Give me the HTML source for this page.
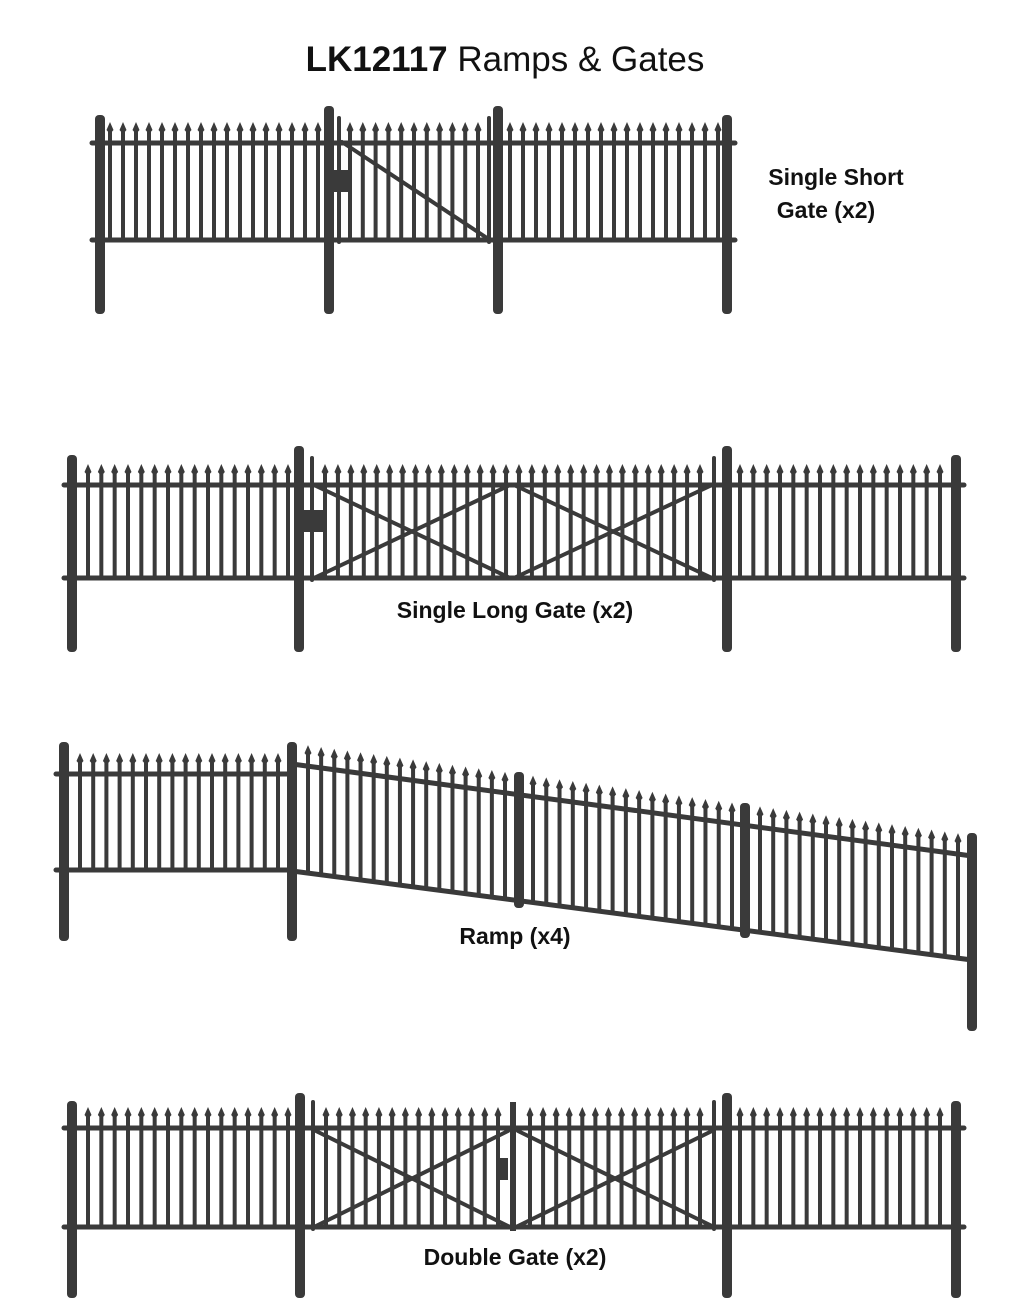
<!DOCTYPE html>
<html><head><meta charset="utf-8"><style>
html,body{margin:0;padding:0;background:#fff;width:1036px;height:1314px;overflow:hidden}
svg{display:block}
text{font-family:"Liberation Sans","DejaVu Sans",sans-serif;fill:#111}
</style></head><body>
<svg id="s" width="1036" height="1314" viewBox="0 0 1036 1314" xmlns="http://www.w3.org/2000/svg">
<text x="505" y="71" text-anchor="middle" font-size="35"><tspan font-weight="bold">LK12117</tspan> Ramps &amp; Gates</text>
<text x="836" y="185" text-anchor="middle" font-size="23" font-weight="bold">Single Short</text>
<text x="826" y="218" text-anchor="middle" font-size="23" font-weight="bold">Gate (x2)</text>
<text x="515" y="618" text-anchor="middle" font-size="23" font-weight="bold">Single Long Gate (x2)</text>
<text x="515" y="944" text-anchor="middle" font-size="23" font-weight="bold">Ramp (x4)</text>
<text x="515" y="1265" text-anchor="middle" font-size="23" font-weight="bold">Double Gate (x2)</text>
<g id="g" fill="#3a3a3a" stroke="#3a3a3a"></g>
</svg>
<script>
var g=document.getElementById('g'),h='';
function line(x1,y1,x2,y2,w){h+='<line x1="'+x1+'" y1="'+y1+'" x2="'+x2+'" y2="'+y2+'" stroke-width="'+w+'" stroke-linecap="round"/>';}
function post(x,t,b){h+='<rect x="'+(x-5)+'" y="'+t+'" width="10" height="'+(b-t)+'" rx="4" stroke="none"/>';}
function pickets(x0,x1,ty,by,sp){
  var n=Math.round((x1-x0)/sp);var s=(x1-x0)/n;
  for(var i=0;i<=n;i++){var x=x0+i*s,t=ty(x),b=by(x);
    line(x,t-14,x,b,4);
    h+='<polygon points="'+(x-3.5)+','+(t-13)+' '+x+','+(t-21)+' '+(x+3.5)+','+(t-13)+' '+x+','+(t-9)+'" stroke="none"/>';
  }
}
function rails(x0,x1,y0,y1,w){line(x0,y0,x1,y1,w||5);}
function flat(x0,x1,t,b){pickets(x0,x1,function(){return t},function(){return b},13);}
// Section 1
rails(92,735,143,143);rails(92,735,240,240);
flat(110,318,143,240);flat(510,718,143,240);
flat(350,478,143,240);
line(339,118,339,242,4);line(489,118,489,242,4);
line(342,142,490,240,4);
h+='<rect x="333" y="170" width="18" height="22" stroke="none"/>';
post(100,115,314);post(329,106,314);post(498,106,314);post(727,115,314);
// Section 2
rails(64,964,485,485);rails(64,964,578,578);
flat(88,288,485,578);flat(740,940,485,578);flat(325,700,485,578);
line(312,458,312,580,4);line(714,458,714,580,4);
line(314,485,510,578,4);line(314,578,510,485,4);
line(514,485,712,578,4);line(514,578,712,485,4);
h+='<rect x="303" y="510" width="22" height="22" stroke="none"/>';
post(72,455,652);post(299,446,652);post(727,446,652);post(956,455,652);
// Section 3 ramp
rails(56,292,774,774);rails(56,292,870,870);
flat(80,278,774,870);
function rt(x){return 764+(x-292)*(856-764)/(972-292);}
function rb(x){return 871+(x-292)*(960-871)/(972-292);}
line(292,764,972,856,5);line(292,871,972,960,5);
pickets(308,505,rt,rb,13);pickets(533,732,rt,rb,13);pickets(760,958,rt,rb,13);
post(64,742,941);post(292,742,941);post(519,772,908);post(745,803,938);post(972,833,1031);
// Section 4
rails(64,964,1128,1128);rails(64,964,1227,1227);
flat(88,288,1128,1227);flat(740,940,1128,1227);
flat(326,498,1128,1227);flat(530,700,1128,1227);
line(313,1102,313,1229,4);line(714,1102,714,1229,4);
line(316,1131,508,1226,4);line(316,1226,508,1131,4);
line(518,1226,712,1131,4);line(518,1131,712,1226,4);
h+='<rect x="496" y="1158" width="12" height="22" stroke="none"/>';
h+='<rect x="510" y="1102" width="6" height="129" stroke="none"/>';
post(72,1101,1298);post(300,1093,1298);post(727,1093,1298);post(956,1101,1298);
g.innerHTML=h;
</script>
</body></html>
